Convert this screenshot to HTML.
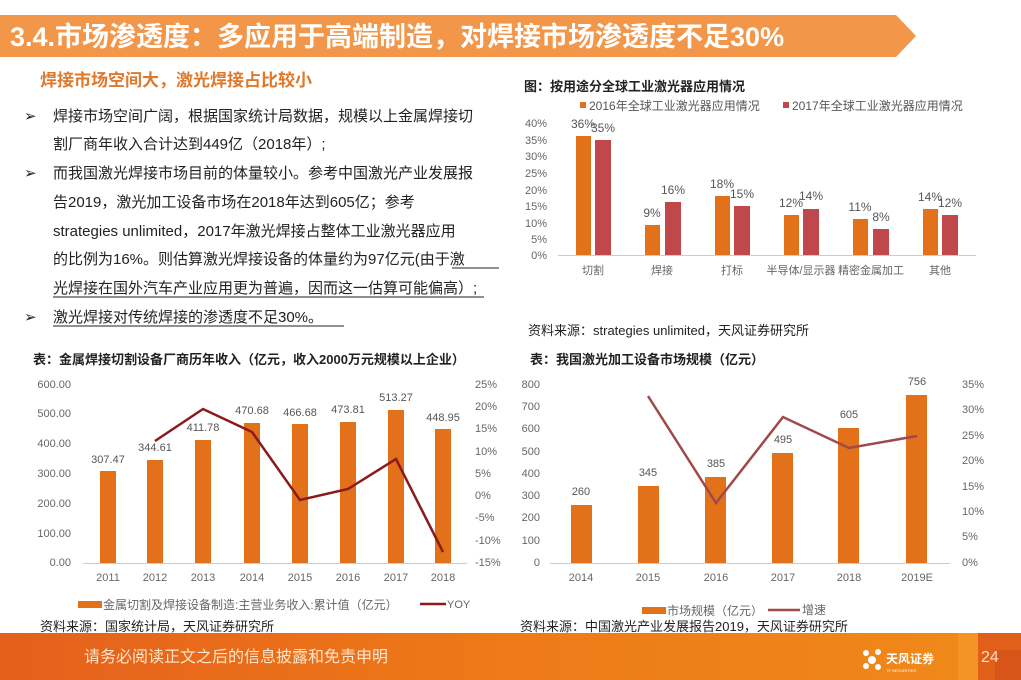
<!DOCTYPE html>
<html><head><meta charset="utf-8"><style>
html,body{margin:0;padding:0;background:#fff}
svg{display:block}
text{font-family:"Liberation Sans","Noto Sans CJK SC",sans-serif}
</style></head><body>
<svg width="1021" height="680" viewBox="0 0 1021 680" xmlns="http://www.w3.org/2000/svg">
<defs>
<linearGradient id="ft" x1="0" x2="1" y1="0" y2="0">
<stop offset="0" stop-color="#e4601c"/><stop offset="0.5" stop-color="#ee7a18"/><stop offset="1" stop-color="#f08a1a"/>
</linearGradient>
</defs>
<!-- header -->
<polygon points="0,15 896,15 916,36 896,57 0,57" fill="#f29649"/>
<text x="10" y="46" font-size="27" font-weight="bold" fill="#fff">3.4.市场渗透度：多应用于高端制造，对焊接市场渗透度不足30%</text>

<!-- left text -->
<text x="40" y="86" font-size="17" font-weight="bold" fill="#e0782a">焊接市场空间大，激光焊接占比较小</text>
<g font-size="15" fill="#222">
<text x="24" y="121">➢</text>
<text x="53" y="121">焊接市场空间广阔，根据国家统计局数据，规模以上金属焊接切</text>
<text x="53" y="149">割厂商年收入合计达到449亿（2018年）;</text>
<text x="24" y="178">➢</text>
<text x="53" y="178">而我国激光焊接市场目前的体量较小。参考中国激光产业发展报</text>
<text x="53" y="207">告2019，激光加工设备市场在2018年达到605亿；参考</text>
<text x="53" y="236">strategies unlimited，2017年激光焊接占整体工业激光器应用</text>
<text x="53" y="264">的比例为16%。则估算激光焊接设备的体量约为97亿元(由于激</text>
<text x="53" y="293">光焊接在国外汽车产业应用更为普遍，因而这一估算可能偏高）;</text>
<text x="24" y="322">➢</text>
<text x="53" y="322">激光焊接对传统焊接的渗透度不足30%。</text>
</g>
<g stroke="#222" stroke-width="1">
<line x1="452" y1="268" x2="499" y2="268"/>
<line x1="53" y1="297" x2="484" y2="297"/>
<line x1="53" y1="326" x2="344" y2="326"/>
</g>

<!-- chart 1 -->
<text x="524" y="91" font-size="13" font-weight="bold" fill="#222">图：按用途分全球工业激光器应用情况</text>
<rect x="580" y="102" width="6" height="6" fill="#e3711a"/>
<text x="589" y="110" font-size="12" fill="#555">2016年全球工业激光器应用情况</text>
<rect x="783" y="102" width="6" height="6" fill="#c0484c"/>
<text x="792" y="110" font-size="12" fill="#555">2017年全球工业激光器应用情况</text>
<g font-size="11" fill="#666" text-anchor="end">
<text x="547" y="127">40%</text><text x="547" y="144">35%</text><text x="547" y="160">30%</text><text x="547" y="177">25%</text>
<text x="547" y="194">20%</text><text x="547" y="210">15%</text><text x="547" y="227">10%</text><text x="547" y="243">5%</text><text x="547" y="259">0%</text>
</g>
<line x1="558" y1="255.5" x2="976" y2="255.5" stroke="#ccc"/>
<g fill="#e3711a">
<rect x="576" y="136" width="15" height="119"/><rect x="645" y="225" width="15" height="30"/><rect x="715" y="196" width="15" height="59"/>
<rect x="784" y="215" width="15" height="40"/><rect x="853" y="219" width="15" height="36"/><rect x="923" y="209" width="15" height="46"/>
</g>
<g fill="#c0484c">
<rect x="595" y="140" width="16" height="115"/><rect x="665" y="202" width="16" height="53"/><rect x="734" y="206" width="16" height="49"/>
<rect x="803" y="209" width="16" height="46"/><rect x="873" y="229" width="16" height="26"/><rect x="942" y="215" width="16" height="40"/>
</g>
<g font-size="12" fill="#555" text-anchor="middle">
<text x="583" y="128">36%</text><text x="603" y="132">35%</text>
<text x="652" y="217">9%</text><text x="673" y="194">16%</text>
<text x="722" y="188">18%</text><text x="742" y="198">15%</text>
<text x="791" y="207">12%</text><text x="811" y="200">14%</text>
<text x="860" y="211">11%</text><text x="881" y="221">8%</text>
<text x="930" y="201">14%</text><text x="950" y="207">12%</text>
</g>
<g font-size="11" fill="#666" text-anchor="middle">
<text x="593" y="274">切割</text><text x="662" y="274">焊接</text><text x="732" y="274">打标</text>
<text x="801" y="274">半导体/显示器</text><text x="871" y="274">精密金属加工</text><text x="940" y="274">其他</text>
</g>
<text x="528" y="335" font-size="13" fill="#222">资料来源：strategies  unlimited，天风证券研究所</text>

<!-- chart 2 -->
<text x="33" y="364" font-size="13" font-weight="bold" fill="#222">表：金属焊接切割设备厂商历年收入（亿元，收入2000万元规模以上企业）</text>
<g font-size="11" fill="#666" text-anchor="end">
<text x="71" y="388">600.00</text><text x="71" y="417">500.00</text><text x="71" y="447">400.00</text><text x="71" y="477">300.00</text>
<text x="71" y="507">200.00</text><text x="71" y="537">100.00</text><text x="71" y="566">0.00</text>
</g>
<g font-size="11" fill="#666">
<text x="475" y="388">25%</text><text x="475" y="410">20%</text><text x="475" y="432">15%</text><text x="475" y="455">10%</text>
<text x="475" y="477">5%</text><text x="475" y="499">0%</text><text x="475" y="521">-5%</text><text x="475" y="544">-10%</text><text x="475" y="566">-15%</text>
</g>
<line x1="83" y1="563.5" x2="467" y2="563.5" stroke="#ccc"/>
<g fill="#e3711a">
<rect x="100" y="471" width="16" height="92"/><rect x="147" y="460" width="16" height="103"/><rect x="195" y="440" width="16" height="123"/>
<rect x="244" y="423" width="16" height="140"/><rect x="292" y="424" width="16" height="139"/><rect x="340" y="422" width="16" height="141"/>
<rect x="388" y="410" width="16" height="153"/><rect x="435" y="429" width="16" height="134"/>
</g>
<polyline points="155,441 203,409 252,432 300,500 348,489 396,459 443,552" fill="none" stroke="#8b1a1a" stroke-width="2.5"/>
<g font-size="11" fill="#555" text-anchor="middle">
<text x="108" y="463">307.47</text><text x="155" y="451">344.61</text><text x="203" y="431">411.78</text><text x="252" y="414">470.68</text>
<text x="300" y="416">466.68</text><text x="348" y="413">473.81</text><text x="396" y="401">513.27</text><text x="443" y="421">448.95</text>
</g>
<g font-size="11" fill="#666" text-anchor="middle">
<text x="108" y="581">2011</text><text x="155" y="581">2012</text><text x="203" y="581">2013</text><text x="252" y="581">2014</text>
<text x="300" y="581">2015</text><text x="348" y="581">2016</text><text x="396" y="581">2017</text><text x="443" y="581">2018</text>
</g>
<rect x="78" y="601" width="24" height="7" fill="#e3711a"/>
<text x="103" y="609" font-size="12" fill="#666">金属切割及焊接设备制造:主营业务收入:累计值（亿元）</text>
<line x1="420" y1="604" x2="446" y2="604" stroke="#8b1a1a" stroke-width="2.5"/>
<text x="447" y="608" font-size="11" fill="#666">YOY</text>
<text x="40" y="631" font-size="13" fill="#222">资料来源：国家统计局，天风证券研究所</text>

<!-- chart 3 -->
<text x="530" y="364" font-size="13" font-weight="bold" fill="#222">表：我国激光加工设备市场规模（亿元）</text>
<g font-size="11" fill="#666" text-anchor="end">
<text x="540" y="388">800</text><text x="540" y="410">700</text><text x="540" y="432">600</text><text x="540" y="455">500</text>
<text x="540" y="477">400</text><text x="540" y="499">300</text><text x="540" y="521">200</text><text x="540" y="544">100</text><text x="540" y="566">0</text>
</g>
<g font-size="11" fill="#666">
<text x="962" y="388">35%</text><text x="962" y="413">30%</text><text x="962" y="439">25%</text><text x="962" y="464">20%</text>
<text x="962" y="490">15%</text><text x="962" y="515">10%</text><text x="962" y="540">5%</text><text x="962" y="566">0%</text>
</g>
<line x1="550" y1="563.5" x2="950" y2="563.5" stroke="#ccc"/>
<g fill="#e3711a">
<rect x="571" y="505" width="21" height="58"/><rect x="638" y="486" width="21" height="77"/><rect x="705" y="477" width="21" height="86"/>
<rect x="772" y="453" width="21" height="110"/><rect x="838" y="428" width="21" height="135"/><rect x="906" y="395" width="21" height="168"/>
</g>
<polyline points="648,396 716,503 783,417 849,448 917,436" fill="none" stroke="#a0494a" stroke-width="2.5"/>
<g font-size="11" fill="#555" text-anchor="middle">
<text x="581" y="495">260</text><text x="648" y="476">345</text><text x="716" y="467">385</text>
<text x="783" y="443">495</text><text x="849" y="418">605</text><text x="917" y="385">756</text>
</g>
<g font-size="11" fill="#666" text-anchor="middle">
<text x="581" y="581">2014</text><text x="648" y="581">2015</text><text x="716" y="581">2016</text>
<text x="783" y="581">2017</text><text x="849" y="581">2018</text><text x="917" y="581">2019E</text>
</g>
<rect x="642" y="607" width="24" height="7" fill="#e3711a"/>
<text x="667" y="615" font-size="12" fill="#666">市场规模（亿元）</text>
<line x1="768" y1="610" x2="800" y2="610" stroke="#a0494a" stroke-width="2.5"/>
<text x="802" y="614" font-size="12" fill="#666">增速</text>
<text x="520" y="631" font-size="13" fill="#222">资料来源：中国激光产业发展报告2019，天风证券研究所</text>

<!-- footer -->
<rect x="0" y="633" width="1021" height="47" fill="url(#ft)"/>
<rect x="958" y="633" width="20" height="47" fill="#f39a2a" opacity="0.7"/>
<rect x="978" y="633" width="43" height="47" fill="#e0601a"/>
<rect x="995" y="650" width="26" height="30" fill="#d04e18" opacity="0.6"/>
<text x="84" y="662" font-size="16" fill="#fde6cc">请务必阅读正文之后的信息披露和免责申明</text>
<g fill="#fff">
<circle cx="866" cy="653" r="3"/><circle cx="878" cy="652" r="3"/><circle cx="872" cy="660" r="4"/><circle cx="866" cy="666" r="3"/><circle cx="878" cy="667" r="3"/>
</g>
<text x="886" y="663" font-size="12" font-weight="bold" fill="#fff">天风证券</text>
<text x="886" y="672" font-size="4" fill="#fff">TF SECURITIES</text>
<text x="981" y="662" font-size="16" fill="#fbe0c0">24</text>
</svg>
</body></html>
